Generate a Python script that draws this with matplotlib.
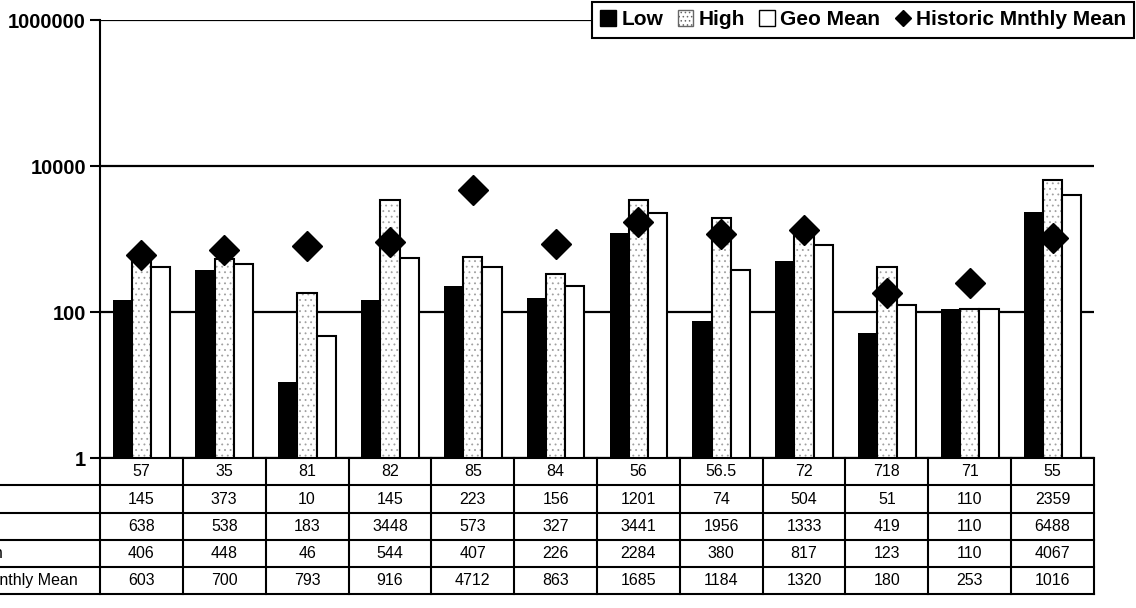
import matplotlib.pyplot as plt
import matplotlib.transforms as mtransforms
from matplotlib.lines import Line2D
from matplotlib.patches import Patch
from matplotlib.ticker import NullLocator
import numpy as np

plt.rcParams['font.family'] = ['Liberation Sans', 'DejaVu Sans']
plt.rcParams['hatch.linewidth'] = 0.6

categories = ["57", "35", "81", "82", "85", "84", "56", "56.5", "72", "718", "71", "55"]
low = [145, 373, 10, 145, 223, 156, 1201, 74, 504, 51, 110, 2359]
high = [638, 538, 183, 3448, 573, 327, 3441, 1956, 1333, 419, 110, 6488]
geo_mean = [406, 448, 46, 544, 407, 226, 2284, 380, 817, 123, 110, 4067]
historic = [603, 700, 793, 916, 4712, 863, 1685, 1184, 1320, 180, 253, 1016]
row_labels = ["Low", "High", "Geo Mean", "Historic Mnthly Mean"]

W, H = 1136, 608
fig = plt.figure(figsize=(W / 100, H / 100), dpi=100)


def fx(px):
    return px / W


def fy(px):
    return 1 - px / H


ax = fig.add_axes([fx(100), fy(458), fx(994), 438 / H])

x = np.arange(len(categories))
w = 0.232

# Bars
ax.bar(x - w, low, w, bottom=1, color='black', zorder=3)
ax.bar(x, high, w, bottom=1, color='white', edgecolor='#a0a0a0', hatch='...', linewidth=0, zorder=3)
ax.bar(x, high, w, bottom=1, fill=False, edgecolor='black', linewidth=1.5, zorder=3)
ax.bar(x + w, geo_mean, w, bottom=1, color='white', edgecolor='black', linewidth=1.5, zorder=3)
ax.plot(x, historic, linestyle='none', marker='D', color='black', markersize=15, zorder=4)

ax.set_yscale('log')
ax.set_ylim(1, 1e6)
ax.set_xlim(-0.5, len(categories) - 0.5)
ax.set_yticks([1, 100, 10000, 1000000])
ax.set_yticklabels(["1", "100", "10000", "1000000"], fontsize=14.5, fontweight='bold')
ax.yaxis.set_minor_locator(NullLocator())
ax.set_xticks([])
ax.tick_params(axis='y', length=7, width=1.5, pad=3)
ax.yaxis.grid(True, color='black', linewidth=1.6, zorder=0)
ax.set_axisbelow(True)
for s in ['top', 'right']:
    ax.spines[s].set_visible(False)
ax.spines['left'].set_linewidth(1.5)
ax.spines['bottom'].set_linewidth(1.5)

# Data table under the plot (row labels run off the left edge, as in the scan)
trans = mtransforms.blended_transform_factory(ax.transData, fig.transFigure)
row_y = [458, 485, 513, 540, 567, 594]
for i, c in enumerate(categories):
    ax.text(i, fy((row_y[0] + row_y[1]) / 2), c, transform=trans, ha='center', va='center',
            fontsize=11.5, clip_on=False)
for r, vals in enumerate([low, high, geo_mean, historic]):
    yc = fy((row_y[r + 1] + row_y[r + 2]) / 2)
    for i, v in enumerate(vals):
        ax.text(i, yc, str(v), transform=trans, ha='center', va='center', fontsize=11.5, clip_on=False)
    fig.text(fx(-72), yc, row_labels[r], ha='left', va='center', fontsize=11.5)

for k in range(len(categories) + 1):
    ax.plot([k - 0.5, k - 0.5], [fy(row_y[0]), fy(row_y[-1])], transform=trans,
            color='black', linewidth=1.5, clip_on=False)
for yy in row_y[1:]:
    fig.add_artist(Line2D([0, fx(1094)], [fy(yy), fy(yy)], color='black', linewidth=1.5))

# Legend
handles = [Patch(facecolor='black', edgecolor='black'),
           Patch(facecolor='white', edgecolor='#666666', hatch='....'),
           Patch(facecolor='white', edgecolor='black'),
           Line2D([], [], marker='D', color='black', linestyle='none', markersize=8)]
leg = fig.legend(handles, ["Low", "High", "Geo Mean", "Historic Mnthly Mean"],
                 loc='upper left', bbox_to_anchor=(fx(592), fy(2)), ncol=4,
                 fancybox=False, edgecolor='black', framealpha=1,
                 prop={'weight': 'bold', 'size': 15},
                 handlelength=0.75, handleheight=0.75, handletextpad=0.25,
                 columnspacing=0.7, borderpad=0.4, borderaxespad=0)
leg.get_frame().set_linewidth(1.5)

fig.savefig('out.png', dpi=100)
